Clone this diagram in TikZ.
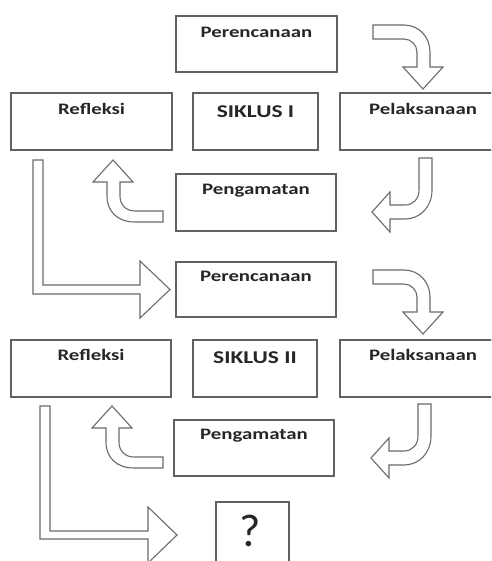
\documentclass[tikz,border=0pt]{standalone}
\usepackage{fontspec}
\newfontfamily\lblfont{Carlito}[FakeStretch=1.3]
\newfontfamily\qfont{Carlito}
\begin{document}
\begin{tikzpicture}[x=1pt,y=-1pt,
  box/.style={draw=black!62, line width=1.4pt, fill=white, inner sep=0pt},
  lbl/.style={font=\lblfont\bfseries\fontsize{16}{18}\selectfont, text=black!85, anchor=base, inner sep=0pt},
  siklbl/.style={font=\lblfont\bfseries\fontsize{18}{20}\selectfont, text=black!85, anchor=base, inner sep=0pt},
  blk/.style={draw=black!58, line width=1.1pt, fill=white, line join=miter}]
\clip (0,0) rectangle (491,561);
\fill[white] (0,0) rectangle (491,561);

% ---- boxes, cycle I
\node[box, minimum width=161pt, minimum height=56pt] (pr1) at (256.5,44) {};
\node[box, minimum width=161pt, minimum height=57pt] (ref1) at (91.5,121.5) {};
\node[box, minimum width=125pt, minimum height=57pt] (sik1) at (255.5,121.5) {};
\node[box, minimum width=160pt, minimum height=57pt] (pel1) at (420,121.5) {};
\node[box, minimum width=160pt, minimum height=57pt] (pen1) at (256,202.5) {};
% ---- boxes, cycle II
\node[box, minimum width=160pt, minimum height=55pt] (pr2) at (256,289.5) {};
\node[box, minimum width=160pt, minimum height=57pt] (ref2) at (91,368.5) {};
\node[box, minimum width=124pt, minimum height=57pt] (sik2) at (255,368.5) {};
\node[box, minimum width=160pt, minimum height=57pt] (pel2) at (420,368.5) {};
\node[box, minimum width=160pt, minimum height=56pt] (pen2) at (254,448) {};
\node[box, minimum width=73pt, minimum height=73pt] (q) at (252.5,538.5) {};

% ---- labels
\node[lbl] (tpr1) at ([yshift=-22pt]pr1.north) {Perencanaan};
\node[lbl] (tref1) at ([yshift=-22pt]ref1.north) {Refleksi};
\node[siklbl] (tsik1) at ([yshift=-25pt]sik1.north) {SIKLUS I};
\node[lbl] (tpel1) at ([xshift=3pt,yshift=-22pt]pel1.north) {Pelaksanaan};
\node[lbl] (tpen1) at ([yshift=-21pt]pen1.north) {Pengamatan};
\node[lbl] (tpr2) at ([yshift=-20pt]pr2.north) {Perencanaan};
\node[lbl] (tref2) at ([yshift=-21pt]ref2.north) {Refleksi};
\node[siklbl] (tsik2) at ([yshift=-24pt]sik2.north) {SIKLUS II};
\node[lbl] (tpel2) at ([xshift=3pt,yshift=-21pt]pel2.north) {Pelaksanaan};
\node[lbl] (tpen2) at ([yshift=-20pt]pen2.north) {Pengamatan};
\node[font=\qfont\fontsize{46}{48}\selectfont, text=black!85, inner sep=0pt] (tq) at (250,531) {?};

% ---- block arrows, cycle I
% Perencanaan -> Pelaksanaan
\draw[blk] (373,25) -- (404,25) .. controls (419,25) and (430,37) .. (430,52) -- (430,67) -- (443,67) -- (423,89) -- (403,67) -- (417,67) -- (417,52) .. controls (417,45) and (411,39) .. (404,39) -- (373,39) -- cycle;
% Pelaksanaan -> Pengamatan
\draw[blk] (419,158) -- (432,158) -- (432,190) .. controls (432,207) and (420,219) .. (405,219) -- (390,219) -- (390,232) -- (372,212) -- (390,192) -- (390,205) -- (405,205) .. controls (413,205) and (419,199) .. (419,190) -- cycle;
% Pengamatan -> Refleksi
\draw[blk] (163,211) -- (135,211) .. controls (126,211) and (120,205) .. (120,196) -- (120,182) -- (133,182) -- (113,160) -- (93,182) -- (107,182) -- (107,196) .. controls (107,212) and (118,222) .. (135,222) -- (163,222) -- cycle;
% Refleksi I -> Perencanaan II
\draw[blk] (33,160) -- (43,160) -- (43,285) -- (140,285) -- (140,261) -- (170,289.5) -- (140,318) -- (140,294) -- (33,294) -- cycle;

% ---- block arrows, cycle II
\begin{scope}[yshift=-245pt]
\draw[blk] (373,25) -- (404,25) .. controls (419,25) and (430,37) .. (430,52) -- (430,67) -- (443,67) -- (423,89) -- (403,67) -- (417,67) -- (417,52) .. controls (417,45) and (411,39) .. (404,39) -- (373,39) -- cycle;
\end{scope}
\begin{scope}[yshift=-246pt, xshift=-1pt]
\draw[blk] (419,158) -- (432,158) -- (432,190) .. controls (432,207) and (420,219) .. (405,219) -- (390,219) -- (390,232) -- (372,212) -- (390,192) -- (390,205) -- (405,205) .. controls (413,205) and (419,199) .. (419,190) -- cycle;
\draw[blk] (164,211) -- (135,211) .. controls (126,211) and (120,205) .. (120,196) -- (120,182) -- (133,182) -- (113,160) -- (93,182) -- (107,182) -- (107,196) .. controls (107,212) and (118,222) .. (135,222) -- (164,222) -- cycle;
\end{scope}
% Refleksi II -> ?
\draw[blk] (40,406) -- (50,406) -- (50,531) -- (148,531) -- (148,507) -- (177,535) -- (148,563) -- (148,539) -- (40,539) -- cycle;
\end{tikzpicture}
\end{document}
